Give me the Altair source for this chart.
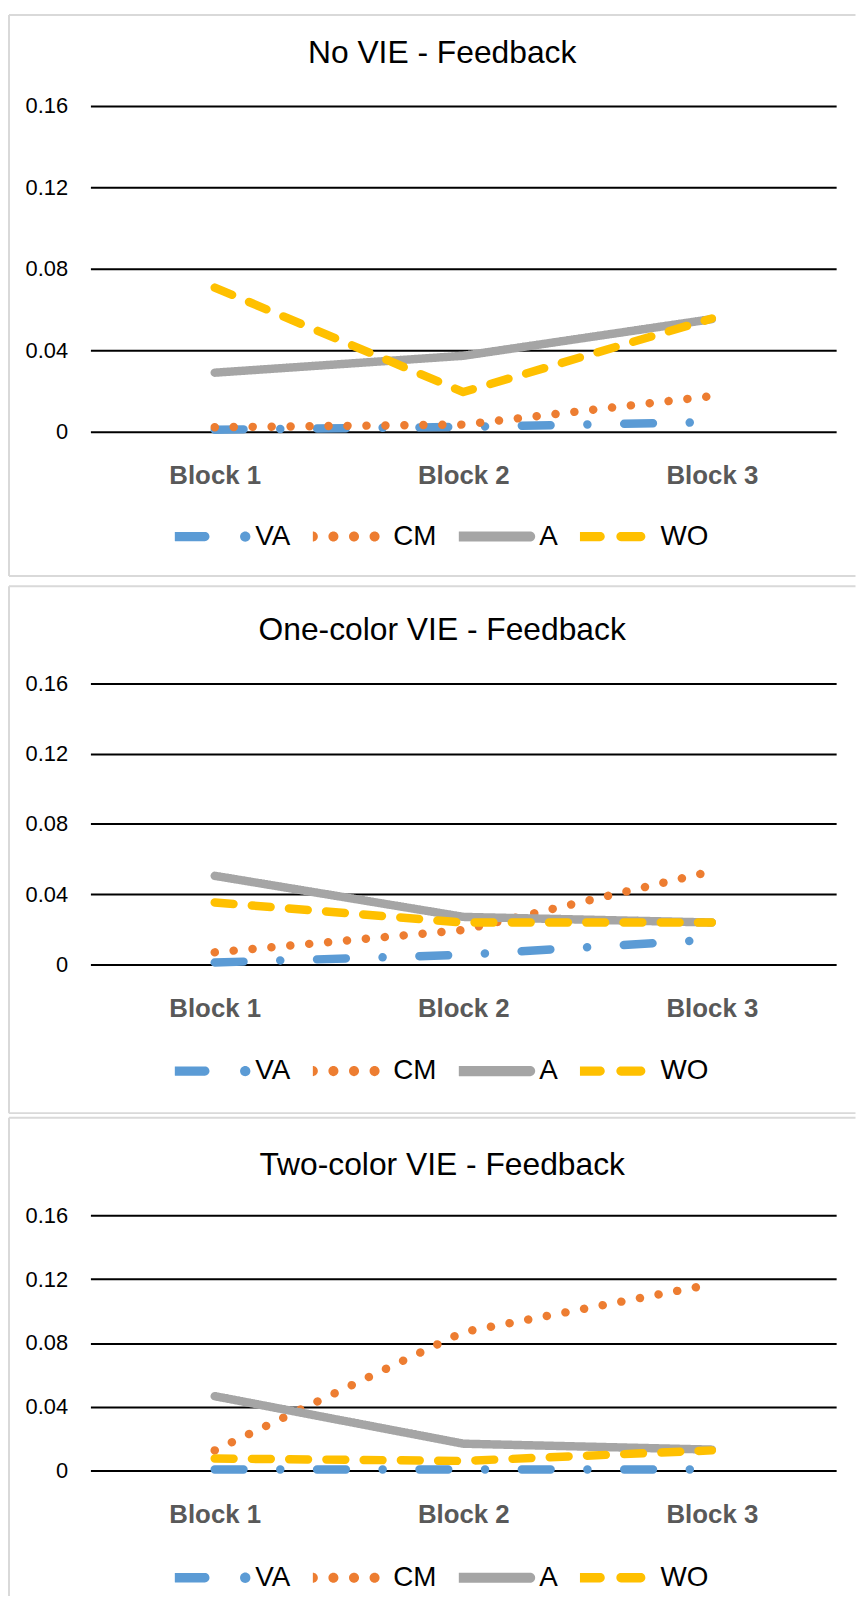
import altair as alt
import pandas as pd

# ---------------- data ----------------
blocks = ["Block 1", "Block 2", "Block 3"]
series = ["VA", "CM", "A", "WO"]
colors = ["#5B9BD5", "#ED7D31", "#A5A5A5", "#FFC000"]
titles = ["No VIE - Feedback", "One-color VIE - Feedback", "Two-color VIE - Feedback"]
y_ticks = [0, 0.04, 0.08, 0.12, 0.16]

no_vie = {
    "VA": [0.0010, 0.0024, 0.0047],
    "CM": [0.0022, 0.0035, 0.0175],
    "A":  [0.0290, 0.0373, 0.0553],
    "WO": [0.0708, 0.0195, 0.0556],
}
one_color = {
    "VA": [0.0010, 0.0054, 0.0140],
    "CM": [0.0068, 0.0195, 0.0530],
    "A":  [0.0504, 0.0270, 0.0238],
    "WO": [0.0352, 0.0238, 0.0238],
}
two_color = {
    "VA": [0.0006, 0.0006, 0.0006],
    "CM": [0.0126, 0.0868, 0.1168],
    "A":  [0.0466, 0.0168, 0.0131],
    "WO": [0.0075, 0.0060, 0.0126],
}
panel_values = [no_vie, one_color, two_color]

# ---------------- styles ----------------
FONT = "Liberation Sans"
BORDER = "#D9D9D9"
dashes = [[29, 37, 0.1, 37], [0.1, 19], [1, 0], [19, 18.5]]


def pill(x1, x2, r):
    return (f"M{x1 + r},{-r}H{x2 - r}A{r},{r},0,0,1,{x2 - r},{r}"
            f"H{x1 + r}A{r},{r},0,0,1,{x1 + r},{-r}Z")


def dot(cx, r):
    return f"M{cx - r},0A{r},{r},0,1,0,{cx + r},0A{r},{r},0,1,0,{cx - r},0Z"


# legend swatches drawn like the line styles (unit = half the swatch length)
legend_shapes = [
    pill(-1.12, -0.03, 0.13) + dot(0.97, 0.145),
    dot(-1.0, 0.14) + dot(-0.424, 0.14) + dot(0.152, 0.14) + dot(0.727, 0.14),
    pill(-1.136, 1.136, 0.14),
    pill(-1.118, -0.306, 0.13) + pill(0.018, 0.83, 0.13),
]

# layout of each panel (pixels, relative to its plot area)
layout = [
    dict(h=328.1, top=-91.6, bottom=473.4, left=(-91.6, 473.4), toff=-81.8, ly=418.7),
    dict(h=282.8, top=-97.8, bottom=432.7, left=(-97.8, 432.7), toff=-86.8, ly=375.4),
    dict(h=257.0, top=-98.2, bottom=None, left=(-98.2, 383.3), toff=-90.6, ly=350.0),
]


def make_panel(i):
    vals = panel_values[i]
    lay = layout[i]
    df = pd.DataFrame(
        [{"Block": b, "Series": s, "Value": v}
         for s in series for b, v in zip(blocks, vals[s])]
    )
    leg = alt.Legend(
        title=None, orient="none", direction="horizontal",
        legendX=85, legendY=lay["ly"],
        symbolSize=72 * 72, symbolStrokeWidth=0, symbolOpacity=1,
        labelFont=FONT, labelFontSize=28, labelColor="#000000",
        labelOffset=9, columnPadding=22, padding=0, clipHeight=30,
        values=series,
    )
    # legend-only layer (no rows drawn) carrying the line-style swatches
    keys = alt.Chart(df).transform_filter("false").mark_point(
        filled=True, opacity=1, strokeWidth=0
    ).encode(
        color=alt.Color("Series:N", sort=series,
                        scale=alt.Scale(domain=series, range=colors), legend=leg),
        shape=alt.Shape("Series:N", sort=series,
                        scale=alt.Scale(domain=series, range=legend_shapes),
                        legend=leg),
    )
    lines = alt.Chart(df).mark_line(
        strokeWidth=8.5, strokeCap="round", strokeJoin="round"
    ).encode(
        x=alt.X("Block:N", sort=blocks,
                scale=alt.Scale(type="point", padding=0.5),
                axis=alt.Axis(title=None, labelAngle=0, domain=False, ticks=False,
                              tickSize=0, grid=False, labelFont=FONT,
                              labelFontSize=26, labelFontWeight="bold",
                              labelColor="#595959", labelPadding=52.5,
                              labelBaseline="alphabetic")),
        y=alt.Y("Value:Q",
                scale=alt.Scale(domain=[0, 0.16], nice=False, zero=True),
                axis=alt.Axis(title=None, values=y_ticks, format=".2~f",
                              domain=False, ticks=False, tickSize=0, grid=True,
                              gridColor="#000000", gridWidth=2,
                              labelFont=FONT, labelFontSize=22,
                              labelColor="#000000", labelPadding=23)),
        stroke=alt.Stroke("Series:N", sort=series,
                          scale=alt.Scale(domain=series, range=colors), legend=None),
        strokeDash=alt.StrokeDash("Series:N", sort=series,
                                  scale=alt.Scale(domain=series, range=dashes),
                                  legend=None),
    )
    base = alt.Chart(pd.DataFrame({"k": [0]}))
    rule_kw = dict(color=BORDER, strokeWidth=2)
    parts = [
        base.mark_rule(**rule_kw).encode(
            x=alt.value(-82), x2=alt.value(770.5), y=alt.value(lay["top"])),
        base.mark_rule(**rule_kw).encode(
            x=alt.value(-82), y=alt.value(lay["left"][0]), y2=alt.value(lay["left"][1])),
    ]
    if lay["bottom"] is not None:
        parts.append(base.mark_rule(**rule_kw).encode(
            x=alt.value(-82), x2=alt.value(770.5), y=alt.value(lay["bottom"])))
    parts += [keys, lines]
    return alt.layer(*parts).properties(
        width=751, height=lay["h"],
        title=alt.TitleParams(
            text=titles[i], font=FONT, fontSize=32, fontWeight="normal",
            color="#000000", anchor="middle", frame="bounds",
            baseline="alphabetic", offset=lay["toff"], dx=10),
    )


chart = alt.vconcat(
    *[make_panel(i) for i in range(3)], spacing=252.6, bounds="flush"
).resolve_scale(
    x="independent", y="independent", color="independent",
    stroke="independent", strokeDash="independent", shape="independent"
).resolve_legend(
    color="independent", shape="independent"
).properties(
    padding={"left": 0, "top": 0, "right": 0, "bottom": 0},
    background="white",
).configure_view(stroke=None)

chart.save("out.html", embed_options={"renderer": "svg", "actions": False})
